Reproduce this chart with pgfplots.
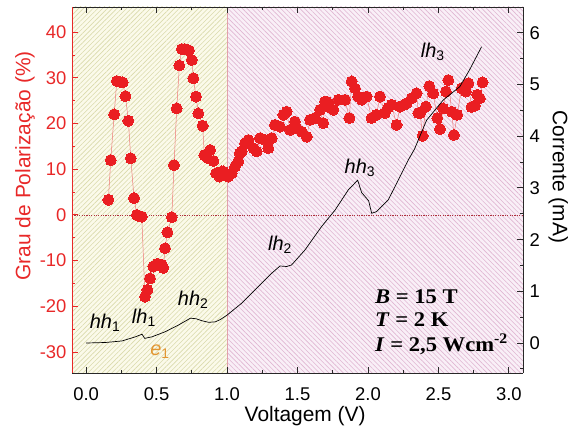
\documentclass[border=0pt]{standalone}
\usepackage{fontspec}
\setmainfont{Liberation Sans}
\newfontfamily\timesfont{Liberation Serif}[FakeStretch=1.08]
\usepackage{pgfplots}
\pgfplotsset{compat=1.18}
\usetikzlibrary{patterns.meta}

\definecolor{ptred}{RGB}{234,30,34}
\definecolor{lnred}{RGB}{240,120,120}
\definecolor{axred}{RGB}{232,40,40}
\definecolor{zred}{RGB}{175,50,60}
\definecolor{ylwbg}{RGB}{251,250,234}
\definecolor{ylwln}{RGB}{218,218,172}
\definecolor{pnkbg}{RGB}{249,239,247}
\definecolor{pnkln}{RGB}{224,182,210}
\definecolor{vline}{RGB}{225,160,172}
\definecolor{eorange}{RGB}{226,150,50}
\definecolor{axgray}{RGB}{40,40,40}

\begin{document}
\begin{tikzpicture}
\useasboundingbox (-72bp,-59bp) rectangle (497bp,373bp);

% left axis: degree of polarisation
\begin{axis}[
    scale only axis, width=451bp, height=366bp,
    at={(0,0)}, anchor=south west,
    xmin=-0.1, xmax=3.1, ymin=-34.6, ymax=45.5,
    axis on top,
    axis y line*=left, axis x line*=box,
    axis line style={axgray, line width=0.9pt},
    y axis line style={axred},
    xtick={0,0.5,1,1.5,2,2.5,3},
    xticklabels={0.0,0.5,1.0,1.5,2.0,2.5,3.0},
    minor xtick={0.25,0.75,1.25,1.75,2.25,2.75},
    ytick={-30,-20,-10,0,10,20,30,40},
    yticklabels={-30,-20,-10,0,10,20,30,40},
    minor ytick={-25,-15,-5,5,15,25,35},
    tick align=inside,
    major tick length=6bp, minor tick length=3.5bp,
    tick style={line width=0.9pt, axgray},
    ytick style={axred},
    tick label style={font=\fontsize{18.5}{22}\selectfont},
    xticklabel style={yshift=-11bp},
    yticklabel style={axred, xshift=-2bp},
    xlabel={Voltagem (V)},
    xlabel style={font=\fontsize{21}{25}\selectfont, at={(axis description cs:0.517,-0.119)}, anchor=center},
    ylabel={Grau de Polarização (\%)},
    ylabel style={font=\fontsize{21}{25}\selectfont, axred, at={(axis description cs:-0.104,0.566)}, anchor=center},
]
% shaded regions
\fill[ylwbg] (axis cs:-0.1,-34.6) rectangle (axis cs:1,45.5);
\fill[pattern={Lines[angle=45,distance=3.4pt,line width=0.6pt]}, pattern color=ylwln]
    (axis cs:-0.1,-34.6) rectangle (axis cs:1,45.5);
\fill[pnkbg] (axis cs:1,-34.6) rectangle (axis cs:3.1,45.5);
\fill[pattern={Lines[angle=-45,distance=3.4pt,line width=0.6pt]}, pattern color=pnkln]
    (axis cs:1,-34.6) rectangle (axis cs:3.1,45.5);
\draw[vline, line width=0.8pt] (axis cs:1,-34.6) -- (axis cs:1,45.5);
\draw[zred, line width=0.7pt, dash pattern=on 1.2pt off 1.2pt] (axis cs:-0.1,0) -- (axis cs:3.1,0);

% polarisation data
\addplot[lnred, line width=0.5pt, mark=*, mark size=5.5bp,
         mark options={draw=ptred, fill=ptred, line width=0pt}] coordinates {
  (0.158,3.3) (0.175,12) (0.199,22) (0.218,29.3) (0.241,29.1) (0.26,29)
  (0.279,26) (0.30,20.6) (0.317,12.4) (0.34,3.7) (0.36,0.0) (0.38,-0.3)
  (0.395,-0.4) (0.418,-17.9) (0.435,-16.4) (0.454,-13.9) (0.477,-11.3)
  (0.506,-10.7) (0.537,-10.9) (0.548,-11.6) (0.56,-7.3) (0.577,-3.8)
  (0.608,-0.5) (0.624,10.9) (0.643,23.3) (0.662,32.7) (0.679,36.3)
  (0.70,36.3) (0.73,36) (0.75,33.9) (0.761,29.9) (0.78,25.9) (0.797,22.2)
  (0.827,19.5) (0.839,13.1) (0.86,12.5) (0.88,14.2) (0.903,11.8)
  (0.922,9.1) (0.946,8.4) (0.962,9.5) (0.974,9.5) (0.998,8.8) (1.009,8.4)
  (1.033,9.1) (1.057,10.6) (1.08,11.7) (1.09,13.5) (1.104,13.9)
  (1.128,15.7) (1.151,16.4) (1.187,14.6) (1.21,13.9) (1.234,16.8)
  (1.27,16.4) (1.293,14.6) (1.317,16.8) (1.34,19.7) (1.376,19.3)
  (1.40,21.9) (1.423,22.6) (1.447,18.6) (1.482,20.4) (1.494,19)
  (1.53,18.2) (1.565,17.1) (1.589,20.8) (1.624,21.2) (1.66,23)
  (1.683,20.1) (1.695,24.8) (1.707,24.8) (1.73,23.5) (1.754,23)
  (1.79,25.2) (1.837,25.2) (1.868,21.2) (1.884,29.2) (1.908,27.7)
  (1.931,25.9) (1.955,25.2) (1.99,25.9) (2.026,21.2) (2.06,21.9)
  (2.085,25.9) (2.12,22.3) (2.145,23.5) (2.168,24.1) (2.203,19.7)
  (2.227,23.7) (2.25,24) (2.274,24.4) (2.31,25.5) (2.345,26.6)
  (2.357,22.3) (2.369,22.3) (2.388,17.3) (2.411,23.7) (2.435,28.2)
  (2.463,26.6) (2.492,21.2) (2.511,18.8) (2.534,23.3) (2.553,27)
  (2.57,29.5) (2.594,22.6) (2.61,17.5) (2.633,21.9) (2.664,27.7)
  (2.695,27) (2.712,28.8) (2.735,23.6) (2.759,23.9) (2.775,26.3)
  (2.794,25.5) (2.813,29)
};
\end{axis}

% right axis: current
\begin{axis}[
    scale only axis, width=451bp, height=366bp,
    at={(0,0)}, anchor=south west,
    xmin=-0.1, xmax=3.1, ymin=-0.58, ymax=6.5,
    axis x line=none, axis y line*=right,
    axis line style={axgray, line width=0.9pt},
    ytick={0,1,2,3,4,5,6},
    yticklabels={0,1,2,3,4,5,6},
    minor ytick={-0.5,0.5,1.5,2.5,3.5,4.5,5.5},
    tick align=inside,
    major tick length=6bp, minor tick length=3.5bp,
    tick style={line width=0.9pt, axgray},
    tick label style={font=\fontsize{18.5}{22}\selectfont},
    yticklabel style={xshift=3bp},
    ylabel={Corrente (mA)},
    ylabel style={font=\fontsize{21}{25}\selectfont, at={(axis description cs:1.078,0.536)}, anchor=center, rotate=180},
]
\addplot[black, line width=0.7pt] coordinates {
  (0.0,0.0) (0.137,0.01) (0.255,0.04) (0.35,0.12) (0.397,0.17) (0.416,0.09)
  (0.468,0.12) (0.563,0.22) (0.657,0.35) (0.74,0.48) (0.78,0.47)
  (0.823,0.43) (0.87,0.40) (0.917,0.41) (0.95,0.45) (1.0,0.54)
  (1.104,0.77) (1.222,1.09) (1.317,1.35) (1.376,1.49) (1.423,1.48)
  (1.458,1.51) (1.553,1.8) (1.67,2.25) (1.766,2.57) (1.86,2.96)
  (1.927,3.15) (1.955,2.91) (1.99,2.8) (2.005,2.75) (2.026,2.51)
  (2.06,2.54) (2.144,2.77) (2.215,3.15) (2.286,3.54) (2.33,3.75)
  (2.416,4.31) (2.534,4.7) (2.652,4.96) (2.72,5.28) (2.806,5.73)
};
\node[font=\fontsize{20}{24}\selectfont] at (axis cs:0.135,0.39) {\textit{hh}\textsubscript{1}};
\node[font=\fontsize{20}{24}\selectfont] at (axis cs:0.41,0.48) {\textit{lh}\textsubscript{1}};
\node[font=\fontsize{20}{24}\selectfont] at (axis cs:0.76,0.83) {\textit{hh}\textsubscript{2}};
\node[font=\fontsize{20}{24}\selectfont, eorange] at (axis cs:0.525,-0.17) {\textit{e}\textsubscript{1}};
\node[font=\fontsize{20}{24}\selectfont] at (axis cs:1.376,1.9) {\textit{lh}\textsubscript{2}};
\node[font=\fontsize{20}{24}\selectfont] at (axis cs:1.943,3.38) {\textit{hh}\textsubscript{3}};
\node[font=\fontsize{20}{24}\selectfont] at (axis cs:2.46,5.63) {\textit{lh}\textsubscript{3}};
\node[anchor=base west, inner sep=0pt, font=\timesfont\bfseries\fontsize{21}{25}\selectfont]
    at (axis cs:2.05,0.77) {\textit{B} = 15 T};
\node[anchor=base west, inner sep=0pt, font=\timesfont\bfseries\fontsize{21}{25}\selectfont]
    at (axis cs:2.05,0.31) {\textit{T} = 2 K};
\node[anchor=base west, inner sep=0pt, font=\timesfont\bfseries\fontsize{21}{25}\selectfont]
    at (axis cs:2.05,-0.155) {\textit{I} = 2,5 Wcm\textsuperscript{-2}};
\end{axis}
\end{tikzpicture}
\end{document}
